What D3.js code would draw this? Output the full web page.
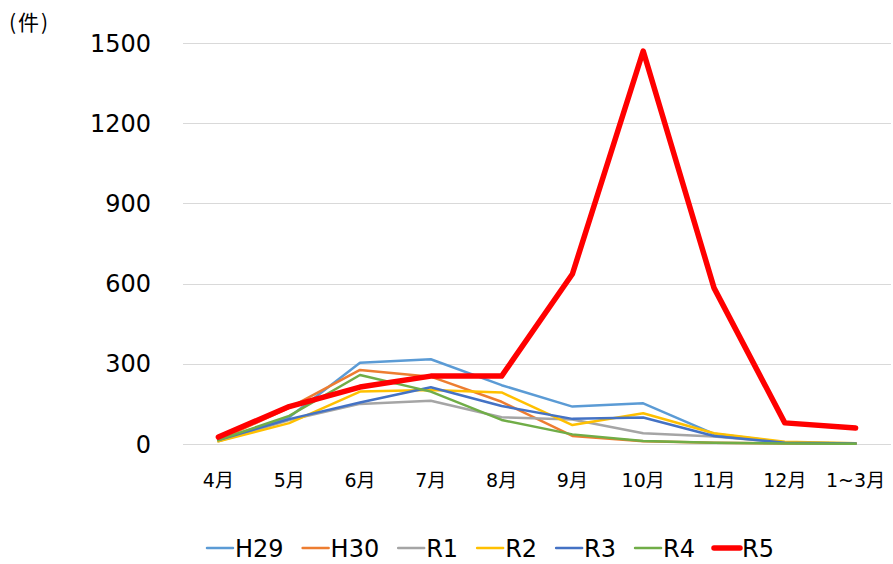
<!DOCTYPE html>
<html>
<head>
<meta charset="utf-8">
<script src="https://cdn.jsdelivr.net/npm/d3@7"></script>
<style>
  html, body { margin: 0; padding: 0; background: #fff; }
  svg text { font-family: "DejaVu Sans", "Noto Sans CJK JP", sans-serif; fill: #000; }
</style>
</head>
<body>
<svg id="chart" width="893" height="564"></svg>
<script>
// ---- data (件数 per month) ----
const months = ['4月', '5月', '6月', '7月', '8月', '9月', '10月', '11月', '12月', '1~3月'];
const yTicks = [0, 300, 600, 900, 1200, 1500];
const seriesNames = ['H29', 'H30', 'R1', 'R2', 'R3', 'R4', 'R5'];
const seriesColors = ['#5B9BD5', '#ED7D31', '#A5A5A5', '#FFC000', '#4472C4', '#70AD47', '#FF0000'];
const H29 = [15, 100, 304, 317, 220, 140, 152, 38, 6, 2];
const H30 = [15, 135, 277, 252, 158, 30, 10, 5, 2, 1];
const R1  = [10, 90, 150, 162, 100, 92, 40, 28, 5, 3];
const R2  = [10, 78, 196, 202, 193, 71, 115, 40, 8, 3];
const R3  = [15, 93, 155, 212, 142, 94, 99, 30, 5, 2];
const R4  = [15, 105, 258, 196, 90, 36, 11, 5, 2, 1];
const R5  = [26, 140, 213, 254, 254, 636, 1470, 584, 79, 60];
const seriesValues = [H29, H30, R1, R2, R3, R4, R5];

(function () {
  const svg = d3.select('#chart');
  const M = { top: 43, right: 2, bottom: 120, left: 183 };
  const W = 893, H = 564;

  const x = d3.scaleBand().domain(months).range([M.left, W - M.right]);
  const y = d3.scaleLinear().domain([0, 1500]).range([H - M.bottom, M.top]);

  // gridlines
  svg.append('g')
    .selectAll('line').data(yTicks).enter().append('line')
    .attr('x1', M.left).attr('x2', W - M.right)
    .attr('y1', d => Math.round(y(d)) + 0.5).attr('y2', d => Math.round(y(d)) + 0.5)
    .attr('stroke', '#d9d9d9').attr('stroke-width', 1);

  // y labels
  svg.append('g')
    .selectAll('text').data(yTicks).enter().append('text')
    .attr('x', 151).attr('y', d => y(d))
    .attr('dy', '0.36em')
    .attr('text-anchor', 'end')
    .style('font-size', '24px')
    .text(d => d);

  // x labels
  svg.append('g')
    .selectAll('text').data(months).enter().append('text')
    .attr('x', d => x(d) + x.bandwidth() / 2)
    .attr('y', 487)
    .attr('text-anchor', 'middle')
    .style('font-size', '19px')
    .text(d => d);

  // unit
  svg.append('text').attr('x', 9).attr('y', 30)
    .style('font-family', '"Noto Sans CJK JP", sans-serif')
    .style('font-size', '21px')
    .style('letter-spacing', '2px')
    .text('(件)');

  // lines
  const line = d3.line()
    .x((d, i) => x(months[i]) + x.bandwidth() / 2)
    .y(d => y(d));

  seriesNames.forEach((name, k) => {
    svg.append('path').datum(seriesValues[k])
      .attr('fill', 'none')
      .attr('stroke', seriesColors[k])
      .attr('stroke-width', name === 'R5' ? 5.5 : 2.5)
      .attr('stroke-linejoin', 'round')
      .attr('stroke-linecap', 'round')
      .attr('d', line);
  });

  // legend
  const leg = svg.append('g');
  let lx = 207;
  const ly = 548;
  seriesNames.forEach((name, k) => {
    leg.append('line')
      .attr('x1', lx).attr('x2', lx + 26)
      .attr('y1', ly).attr('y2', ly)
      .attr('stroke', seriesColors[k])
      .attr('stroke-width', name === 'R5' ? 5.5 : 2.5)
      .attr('stroke-linecap', 'round');
    const t = leg.append('text')
      .attr('x', lx + 28).attr('y', ly).attr('dy', '0.36em')
      .style('font-size', '24px')
      .text(name);
    lx += 28 + t.node().getComputedTextLength() + 19;
  });
})();
</script>
</body>
</html>
